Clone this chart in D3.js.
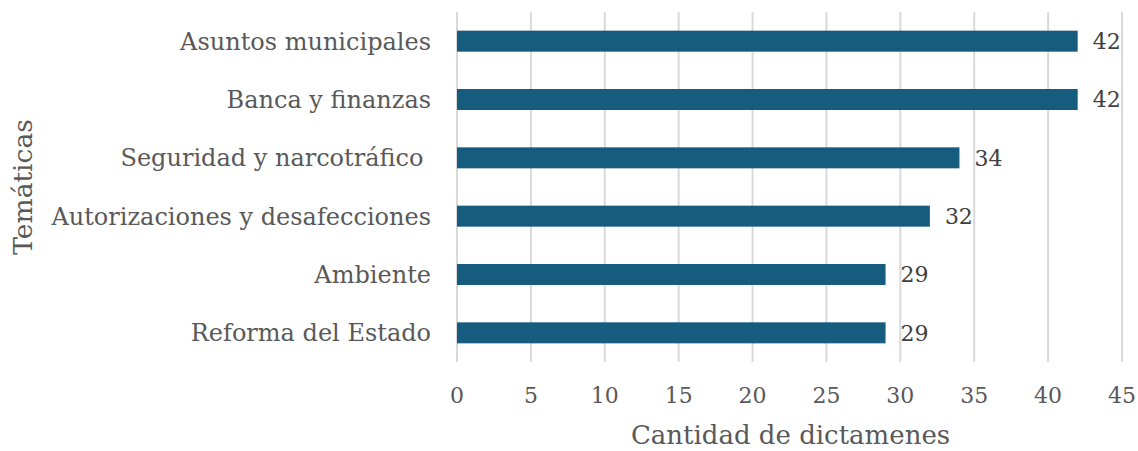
<!DOCTYPE html>
<html>
<head>
<meta charset="utf-8">
<script src="https://cdn.jsdelivr.net/npm/d3@7"></script>
<style>
  body { margin: 0; background: #fff; }
  text { font-family: "DejaVu Serif", serif; }
</style>
</head>
<body>
<svg></svg>
<script>
var categories = ["Asuntos municipales", "Banca y finanzas", "Seguridad y narcotráfico ",
    "Autorizaciones y desafecciones", "Ambiente", "Reforma del Estado"];
var values = [42, 42, 34, 32, 29, 29];
var ticks = [0, 5, 10, 15, 20, 25, 30, 35, 40, 45];

var svgWidth = 1138, svgHeight = 451;
var plotLeft = 457, plotRight = 1122, plotTop = 12, plotBottom = 362;

var svg = d3.select("svg")
    .attr("width", svgWidth)
    .attr("height", svgHeight);

var xScale = d3.scaleLinear()
    .domain([0, 45])
    .range([plotLeft, plotRight]);

var yScale = d3.scaleBand()
    .domain(categories)
    .range([plotTop, plotBottom])
    .paddingInner(0.64)
    .paddingOuter(0.32);

// gridlines
svg.selectAll("line.grid")
    .data(ticks)
    .enter()
    .append("line")
    .attr("class", "grid")
    .attr("x1", function (d) { return xScale(d); })
    .attr("x2", function (d) { return xScale(d); })
    .attr("y1", plotTop)
    .attr("y2", plotBottom)
    .attr("stroke", "#d9d9d9")
    .attr("stroke-width", 2);

// x tick labels
svg.selectAll("text.tick")
    .data(ticks)
    .enter()
    .append("text")
    .attr("class", "tick")
    .attr("x", function (d) { return xScale(d); })
    .attr("y", 403)
    .attr("text-anchor", "middle")
    .attr("font-size", 22)
    .attr("fill", "#595959")
    .text(function (d) { return d; });

// bars
svg.selectAll("rect")
    .data(values)
    .enter()
    .append("rect")
    .attr("x", xScale(0))
    .attr("y", function (d, i) { return yScale(categories[i]); })
    .attr("width", function (d) { return xScale(d) - xScale(0); })
    .attr("height", yScale.bandwidth())
    .attr("fill", "#165c7f");

// value labels
svg.selectAll("text.val")
    .data(values)
    .enter()
    .append("text")
    .attr("class", "val")
    .attr("x", function (d) { return xScale(d) + 15; })
    .attr("y", function (d, i) { return yScale(categories[i]) + yScale.bandwidth() / 2; })
    .attr("dy", "0.36em")
    .attr("font-size", 22)
    .attr("fill", "#404040")
    .text(function (d) { return d; });

// category labels
svg.selectAll("text.cat")
    .data(categories)
    .enter()
    .append("text")
    .attr("class", "cat")
    .attr("x", 431)
    .attr("y", function (d) { return yScale(d) + yScale.bandwidth() / 2; })
    .attr("dy", "0.36em")
    .attr("text-anchor", "end")
    .attr("font-size", 24)
    .attr("fill", "#595959")
    .style("white-space", "pre")
    .text(function (d) { return d; });

// axis titles
svg.append("text")
    .attr("x", (plotLeft + plotRight) / 2 + 1)
    .attr("y", 444)
    .attr("text-anchor", "middle")
    .attr("font-size", 26)
    .attr("fill", "#595959")
    .text("Cantidad de dictamenes");

svg.append("text")
    .attr("transform", "translate(32," + ((plotTop + plotBottom) / 2) + ") rotate(-90)")
    .attr("text-anchor", "middle")
    .attr("font-size", 26.5)
    .attr("fill", "#595959")
    .text("Temáticas");
</script>
</body>
</html>
